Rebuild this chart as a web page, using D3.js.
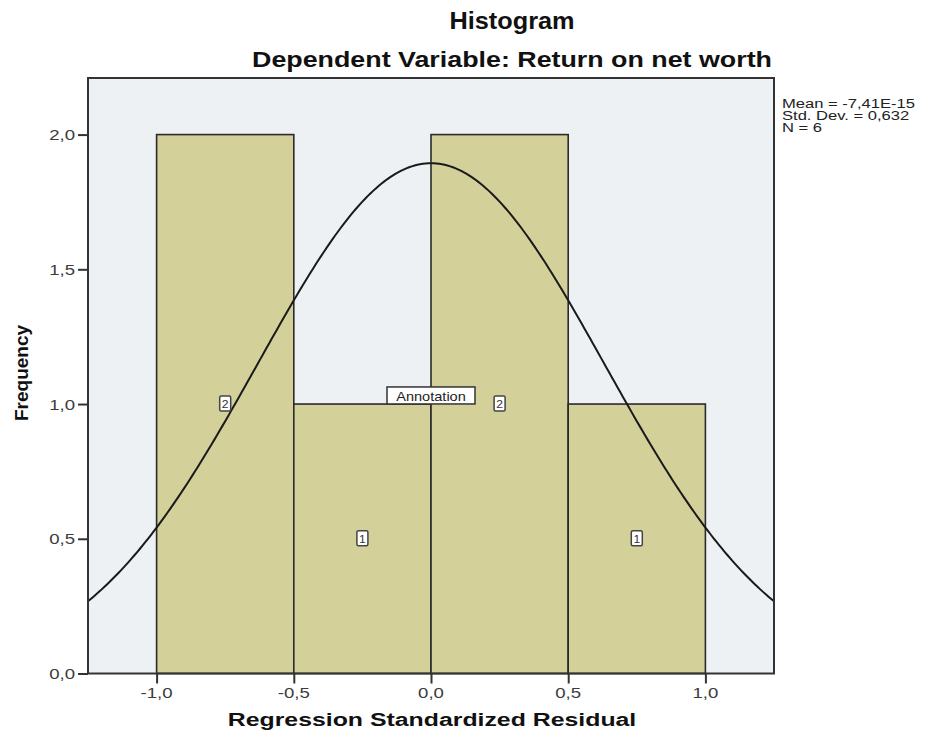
<!DOCTYPE html>
<html>
<head>
<meta charset="utf-8">
<script src="https://cdn.jsdelivr.net/npm/d3@7"></script>
<style>
  body { margin: 0; background: #fff; }
  svg { display: block; font-family: 'Liberation Sans', Arial, sans-serif; }
</style>
</head>
<body>
<div id="chart"></div>
<script>
// histogram bins (lower edge, upper edge) and counts
const binStarts = [-1.0, -0.5, 0.0, 0.5];
const binEnds = [-0.5, 0.0, 0.5, 1.0];
const counts = [2, 1, 2, 1];
const xTicks = [-1.0, -0.5, 0.0, 0.5, 1.0];
const yTicks = [0.0, 0.5, 1.0, 1.5, 2.0];
const statLines = ['Mean = -7,41E-15', 'Std. Dev. = 0,632', 'N = 6'];
const stats = { mean: -7.41e-15, sd: 0.632, n: 6, binWidth: 0.5 };

const width = 931, height = 733;
const stretch = 1.24; // source image is wider than tall
const fmt = v => d3.format('.1f')(v).replace('.', ',').replace('\u2212', '-');

const svg = d3.select('#chart').append('svg')
  .attr('width', width)
  .attr('height', height);

const x = d3.scaleLinear().domain([-1.25, 1.25]).range([88, 774]);
const y = d3.scaleLinear().domain([0, 2.21]).range([673.5, 78]);

// stretched text helper
function label(g, tx, ty, str, opts = {}) {
  return g.append('text')
    .attr('transform', `translate(${tx},${ty}) scale(${opts.sx ?? stretch},1)`)
    .attr('text-anchor', opts.anchor || 'middle')
    .attr('font-size', opts.size || 14)
    .attr('font-weight', opts.weight || 'normal')
    .attr('fill', opts.fill || '#222')
    .text(str);
}

// plot background
svg.append('rect')
  .attr('x', x.range()[0]).attr('y', y.range()[1])
  .attr('width', x.range()[1] - x.range()[0])
  .attr('height', y.range()[0] - y.range()[1])
  .attr('fill', '#eef1f4');

svg.append('defs').append('clipPath').attr('id', 'plotClip')
  .append('rect')
  .attr('x', x.range()[0]).attr('y', y.range()[1])
  .attr('width', x.range()[1] - x.range()[0])
  .attr('height', y.range()[0] - y.range()[1]);

const bins = counts.map((c, i) => ({ x0: binStarts[i], x1: binEnds[i], count: c }));

svg.append('g')
  .selectAll('rect')
  .data(bins)
  .join('rect')
  .attr('x', d => x(d.x0))
  .attr('y', d => y(d.count))
  .attr('width', d => x(d.x1) - x(d.x0))
  .attr('height', d => y(0) - y(d.count))
  .attr('fill', '#d3d09a')
  .attr('stroke', '#2a2a2a')
  .attr('stroke-width', 1.6);

// normal curve from the reported statistics
const scaleN = stats.n * stats.binWidth;
const curvePts = d3.range(-1.25, 1.2501, 0.01).map(v => [
  v,
  scaleN / (stats.sd * Math.sqrt(2 * Math.PI)) * Math.exp(-0.5 * ((v - stats.mean) / stats.sd) ** 2)
]);

svg.append('path')
  .datum(curvePts)
  .attr('clip-path', 'url(#plotClip)')
  .attr('fill', 'none')
  .attr('stroke', '#1a1a1a')
  .attr('stroke-width', 2)
  .attr('d', d3.line().x(d => x(d[0])).y(d => y(d[1])));

// count labels
const lab = svg.append('g');
bins.forEach(b => {
  const cx = x((b.x0 + b.x1) / 2), cy = y(b.count / 2);
  lab.append('rect')
    .attr('x', cx - 5.5).attr('y', cy - 8)
    .attr('width', 11).attr('height', 15)
    .attr('rx', 1.5)
    .attr('fill', '#fff')
    .attr('stroke', '#444')
    .attr('stroke-width', 1.5);
  label(lab, cx, cy + 4, String(b.count), { size: 11, sx: 1.1, fill: '#333' });
});

// annotation box
const ax = x(0), ay = y(1.03);
lab.append('rect')
  .attr('x', ax - 44).attr('y', ay - 9)
  .attr('width', 88).attr('height', 17)
  .attr('fill', '#fff')
  .attr('stroke', '#333')
  .attr('stroke-width', 1.5);
label(lab, ax, ay + 5, 'Annotation', { size: 13, sx: 1.12, fill: '#222' });

// frame
svg.append('rect')
  .attr('x', x.range()[0]).attr('y', y.range()[1])
  .attr('width', x.range()[1] - x.range()[0])
  .attr('height', y.range()[0] - y.range()[1])
  .attr('fill', 'none')
  .attr('stroke', '#333')
  .attr('stroke-width', 2);

// axes
const yAxis = svg.append('g')
  .attr('transform', `translate(${x.range()[0]},0)`)
  .call(d3.axisLeft(y).tickValues(yTicks).tickSize(10).tickFormat(''));
const xAxis = svg.append('g')
  .attr('transform', `translate(0,${y.range()[0]})`)
  .call(d3.axisBottom(x).tickValues(xTicks).tickSize(10).tickFormat(''));
[yAxis, xAxis].forEach(a => {
  a.select('.domain').remove();
  a.selectAll('line').attr('stroke', '#333').attr('stroke-width', 2);
});

const tickG = svg.append('g');
yTicks.forEach(t => label(tickG, 75, y(t) + 5.5, fmt(t), { anchor: 'end', size: 15, fill: '#3c3c3c' }));
xTicks.forEach(t => label(tickG, x(t), 698, fmt(t), { size: 15, fill: '#3c3c3c' }));

// titles
label(svg, 512, 29, 'Histogram', { size: 23, weight: 'bold', sx: 1.1, fill: '#111' });
label(svg, 512, 67, 'Dependent Variable: Return on net worth', { size: 22, weight: 'bold', sx: 1.22, fill: '#111' });
label(svg, 432, 726, 'Regression Standardized Residual', { size: 18, weight: 'bold', sx: 1.38, fill: '#111' });

svg.append('text')
  .attr('transform', 'translate(28,373) rotate(-90)')
  .attr('text-anchor', 'middle')
  .attr('font-size', 19)
  .attr('font-weight', 'bold')
  .attr('fill', '#111')
  .text('Frequency');

// stats legend
statLines.forEach((s, i) => label(svg, 782, 108 + i * 12, s, { anchor: 'start', size: 12, sx: 1.38, fill: '#222' }));
</script>
</body>
</html>
